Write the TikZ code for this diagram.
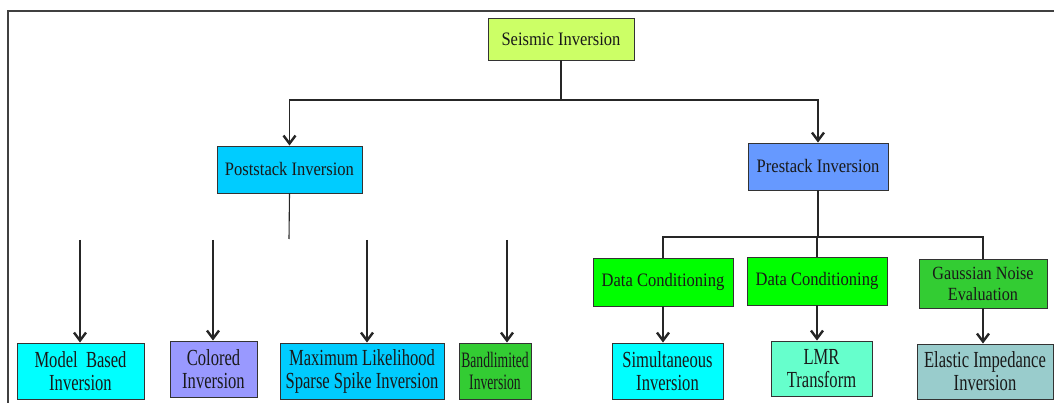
\documentclass[tikz,border=0pt]{standalone}
\usepackage{fontspec}
\setmainfont{Liberation Serif}
\newfontfamily\fnta{Liberation Serif}[FakeStretch=0.87]
\newfontfamily\fntb{Liberation Serif}[FakeStretch=0.72]
\newfontfamily\fntc{Liberation Serif}[FakeStretch=0.62]
\usetikzlibrary{arrows.meta,shadows}
\definecolor{cSeis}{HTML}{CCFF66}
\definecolor{cPost}{HTML}{00CCFF}
\definecolor{cPre}{HTML}{6699FF}
\definecolor{cCyan}{HTML}{00FFFF}
\definecolor{cViolet}{HTML}{9999FF}
\definecolor{cDGreen}{HTML}{33CC33}
\definecolor{cGreen}{HTML}{00FF00}
\definecolor{cMint}{HTML}{66FFCC}
\definecolor{cTeal}{HTML}{99CCCC}
\tikzset{
  box/.style={draw=black!80, line width=0.9pt, inner sep=0pt, align=center, text=black!90,
    drop shadow={shadow xshift=0pt, shadow yshift=-1.4pt, fill=black!75, opacity=1}},
  topbox/.style={box, font=\fnta\fontsize{19}{21}\selectfont},
  botbox/.style={box, font=\fntb\fontsize{23}{23}\selectfont},
  conn/.style={draw=black!85, line width=1.1pt},
  arr/.style={conn, -{Straight Barb[length=8pt,width=12pt,line width=2.4pt]}},
}
\begin{document}
\begin{tikzpicture}[x=1pt,y=-1pt]
\useasboundingbox (0,0) rectangle (1054,403);
% frame
\draw[black!75, line width=2pt] (8,403) -- (8,11) -- (1054,11);

% nodes
\node[topbox, fill=cSeis, minimum width=146pt, minimum height=42pt] (si) at (561,39) {Seismic Inversion};
\node[topbox, fill=cPost, minimum width=145pt, minimum height=47pt] (post) at (289.5,169.5) {Poststack Inversion};
\node[topbox, fill=cPre, minimum width=140pt, minimum height=47pt] (pre) at (818,166.5) {Prestack Inversion};

\node[botbox, fill=cCyan, minimum width=127pt, minimum height=56pt] (mb) at (80.5,371) {Model\ \ Based\\Inversion};
\node[botbox, fill=cViolet, minimum width=87pt, minimum height=56pt] (col) at (213.5,369) {Colored\\Inversion};
\node[botbox, fill=cPost, minimum width=164pt, minimum height=56pt] (ml) at (362,371) {Maximum Likelihood\\Sparse Spike Inversion};
\node[box, font=\fntc\fontsize{22}{22}\selectfont, fill=cDGreen, minimum width=72pt, minimum height=56pt] (bl) at (495,371) {Bandlimited\\Inversion};

\node[topbox, fill=cGreen, minimum width=140pt, minimum height=48pt] (dc1) at (663,282) {Data Conditioning};
\node[topbox, fill=cGreen, minimum width=140pt, minimum height=48pt] (dc2) at (817,281) {Data Conditioning};
\node[topbox, fill=cDGreen, minimum width=128pt, minimum height=49pt, font=\fnta\fontsize{18.6}{21}\selectfont] (gn) at (983,283.5) {Gaussian Noise\\Evaluation};

\node[botbox, fill=cCyan, minimum width=111pt, minimum height=56pt] (sim) at (667.5,371) {Simultaneous\\Inversion};
\node[botbox, fill=cMint, minimum width=101pt, minimum height=55pt] (lmr) at (821.5,368.5) {LMR\\Transform};
\node[botbox, fill=cTeal, minimum width=136pt, minimum height=55pt] (ei) at (985,371.5) {Elastic Impedance\\Inversion};

% junctions
\coordinate (h1) at (561,100);
\coordinate (pend) at (289,239);
\coordinate (s1) at (80,240);
\coordinate (s2) at (213,240);
\coordinate (s3) at (367,240);
\coordinate (s4) at (507,240);
\coordinate (h2) at (818,237);

% connectors
\draw[conn] (si.south) -- (h1);
\draw[arr] (h1) -| (post.north);
\draw[arr] (h1) -| (pre.north);
\draw[conn] (post.south) -- (pend);
\draw[arr] (s1) -- (s1 |- mb.north);
\draw[arr] (s2) -- (s2 |- col.north);
\draw[arr] (s3) -- (s3 |- ml.north);
\draw[arr] (s4) -- (s4 |- bl.north);
\draw[conn] (pre.south) -- (h2);
\draw[conn] (h2) -| (dc1.north);
\draw[conn] (h2) -| (dc2.north);
\draw[conn] (h2) -| (gn.north);
\draw[arr] (dc1.south) -- (dc1.south |- sim.north);
\draw[arr] (dc2.south) -- (dc2.south |- lmr.north);
\draw[arr] (gn.south) -- (gn.south |- ei.north);
\end{tikzpicture}
\end{document}
